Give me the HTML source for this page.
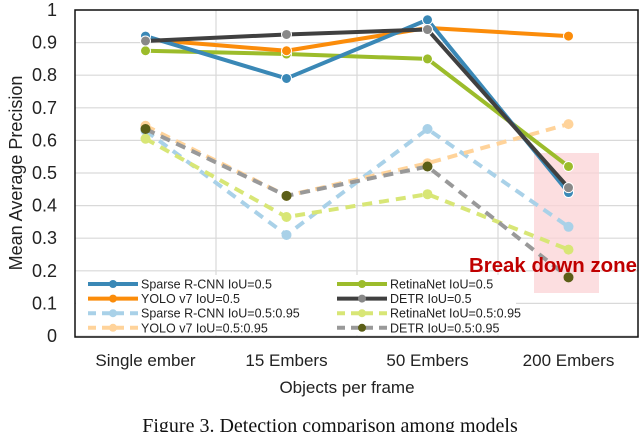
<!DOCTYPE html>
<html><head><meta charset="utf-8"><style>
body{margin:0;background:#fff;width:640px;height:432px;overflow:hidden}
svg{display:block;font-family:"Liberation Sans",sans-serif}
</style></head><body>
<svg id="c" width="640" height="432"></svg>
<script>
const categories=["Single ember","15 Embers","50 Embers","200 Embers"];
const yTicks=[0,0.1,0.2,0.3,0.4,0.5,0.6,0.7,0.8,0.9,1];
const yTickLabels=["0","0.1","0.2","0.3","0.4","0.5","0.6","0.7","0.8","0.9","1"];
const sparse50=[0.92,0.79,0.97,0.44];
const yolo50=[0.91,0.875,0.945,0.92];
const retina50=[0.875,0.865,0.85,0.52];
const detr50=[0.905,0.925,0.94,0.455];
const sparse95=[0.63,0.31,0.635,0.335];
const yolo95=[0.645,0.43,0.53,0.65];
const retina95=[0.605,0.365,0.435,0.265];
const detr95=[0.635,0.43,0.52,0.18];
const seriesNames=["Sparse R-CNN  IoU=0.5","YOLO v7  IoU=0.5","Sparse R-CNN  IoU=0.5:0.95","YOLO v7 IoU=0.5:0.95","RetinaNet  IoU=0.5","DETR  IoU=0.5","RetinaNet IoU=0.5:0.95","DETR  IoU=0.5:0.95"];

const L=75,R=639,T=10,B=336;
const x=i=>L+(R-L)/categories.length*(i+0.5);
const y=v=>B-(B-T)*v;
const NS="http://www.w3.org/2000/svg";
const svg=document.getElementById('c');
function mk(tag,attrs,parent){const e=document.createElementNS(NS,tag);for(const k in attrs)e.setAttribute(k,attrs[k]);(parent||svg).appendChild(e);return e;}

yTicks.forEach((t,i)=>{
 const g=mk('line',{x1:L,x2:R,y1:y(t),y2:y(t),stroke:'#d9d9d9','stroke-width':1.2});
 
 
 const tx=mk('text',{x:57,y:y(t)+6,'text-anchor':'end','font-size':18,fill:'#222'});
 tx.textContent=yTickLabels[i];
 
 
});
for(let i=1;i<categories.length;i++){
 const g=mk('line',{x1:L+(R-L)/categories.length*i,x2:L+(R-L)/categories.length*i,y1:T,y2:B,stroke:'#d9d9d9','stroke-width':1.2});
 
 
}
categories.forEach((c,i)=>{
 const tx=mk('text',{x:x(i),y:366,'text-anchor':'middle','font-size':17,fill:'#222'});
 tx.textContent=c;
 
 
});
const bz=mk('rect',{x:534,y:153,width:65,height:140,fill:'#fbd3d6',opacity:0.75});



const series=[
 {d:sparse95,c:'#a9d1e8',dash:'10,7',m:'#a9d1e8',ring:false},
 {d:yolo95,c:'#ffd39a',dash:'10,7',m:'#ffd39a',ring:false},
 {d:retina95,c:'#d8e676',dash:'10,7',m:'#d8e676',ring:false},
 {d:detr95,c:'#999999',dash:'10,7',m:'#5b5e17',ring:false},
 {d:retina50,c:'#9cbc2b',dash:'',m:'#9cbc2b',ring:true},
 {d:yolo50,c:'#fb8c0a',dash:'',m:'#fb8c0a',ring:true},
 {d:sparse50,c:'#3a88b6',dash:'',m:'#3a88b6',ring:true},
 {d:detr50,c:'#404040',dash:'',m:'#888',ring:true}
];
const names=['sparse-rcnn-iou95','yolo-iou95','retinanet-iou95','detr-iou95','retinanet-iou50','yolo-iou50','sparse-rcnn-iou50','detr-iou50'];
series.forEach((s,k)=>{
 const p=mk('polyline',{points:s.d.map((v,i)=>x(i)+','+y(v)).join(' '),fill:'none',stroke:s.c,'stroke-width':4,'stroke-dasharray':s.dash,'stroke-linejoin':'round'});
 
 
 s.d.forEach((v,i)=>{
  const m=mk('circle',{cx:x(i),cy:y(v),r:5,fill:s.m,stroke:s.ring?'#fff':s.m,'stroke-width':s.ring?1:0});
  
  
 });
});
const bt=mk('text',{x:469,y:272,'font-size':20,'font-weight':'bold',fill:'#c00000',textLength:168,lengthAdjust:'spacingAndGlyphs'});
bt.textContent='Break down zone';



const lg=mk('rect',{x:76,y:275,width:440,height:60,fill:'#fff'});


const legStyles=[series[6],series[5],series[0],series[1],series[4],series[7],series[2],series[3]];
seriesNames.forEach((n,i)=>{
 const col=i<4?0:1, row=i%4;
 const lx=col?337:88, ly=284+row*14.6, s=legStyles[i];
 const ln=mk('line',{x1:lx,x2:lx+50,y1:ly,y2:ly,stroke:s.c,'stroke-width':4,'stroke-dasharray':s.dash?'8,6':''});
 
 
 const mc=mk('circle',{cx:lx+25,cy:ly,r:4,fill:s.m});
 
 
 const t=mk('text',{x:lx+53,y:ly+4.5,'font-size':12.5,fill:'#222'});
 t.textContent=n;
 
 
});
const fr=mk('rect',{x:L,y:T,width:R-L-1,height:B-T+1,fill:'none',stroke:'#111','stroke-width':1.5});


const yt=mk('text',{x:0,y:0,'font-size':18,fill:'#222','text-anchor':'middle',transform:'translate(22,173) rotate(-90)'});
yt.textContent='Mean Average Precision';


const xt=mk('text',{x:347,y:393,'font-size':17,fill:'#222','text-anchor':'middle'});
xt.textContent='Objects per frame';


const cap=mk('text',{x:330,y:432,'font-size':20,fill:'#111','text-anchor':'middle','font-family':'Liberation Serif, serif'});
cap.textContent='Figure 3. Detection comparison among models';


</script>
</body></html>
